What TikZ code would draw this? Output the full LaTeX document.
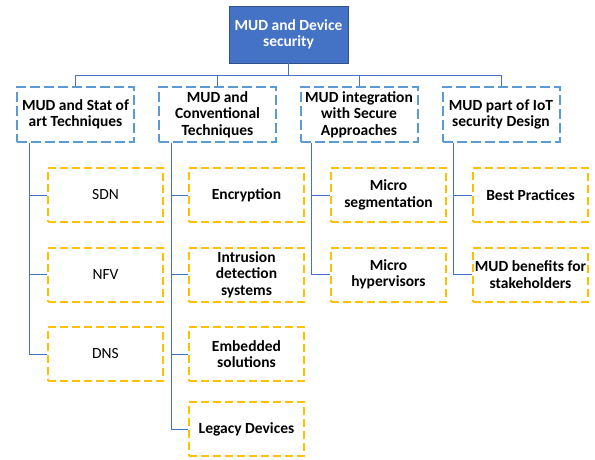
\documentclass[tikz,border=0pt]{standalone}
\usepackage{fontspec}
\setmainfont{Carlito}
\usepackage{tikz}
\usetikzlibrary{calc}
\definecolor{topblue}{HTML}{4472C4}
\definecolor{topedge}{HTML}{2F528F}
\definecolor{dashblue}{HTML}{5B9BD5}
\definecolor{dashgold}{HTML}{FFC000}
\definecolor{wire}{HTML}{4472C4}
\tikzset{
  rootbox/.style={draw=topedge, line width=0.8pt, fill=topblue, text=white,
    minimum width=119pt, minimum height=57pt, align=center, font=\bfseries},
  topicbox/.style={draw=dashblue, line width=2pt, dash pattern=on 10pt off 4pt,
    minimum width=117pt, minimum height=55pt, align=center, font=\bfseries, inner sep=1pt},
  leafbox/.style={draw=dashgold, line width=2pt, dash pattern=on 8pt off 4pt,
    minimum width=115pt, minimum height=54pt, align=center, inner sep=1pt},
  wireline/.style={draw=wire, line width=0.9pt},
}
\begin{document}
\begin{tikzpicture}[x=1pt,y=-1pt]
  \fontsize{15.5}{16.5}\selectfont
  \useasboundingbox (0,0) rectangle (595,459);

  % root
  \node[rootbox] (root) at (288.5,34.5) {MUD and Device\\security};
  \coordinate (bus) at (288.5,75.5);

  % topics
  \node[topicbox] (stat) at (75.5,114.5) {MUD and Stat of\\art Techniques};
  \node[topicbox] (conv) at (217.5,114.5) {MUD and\\Conventional\\Techniques};
  \node[topicbox] (secure) at (359,114.5) {MUD integration\\with Secure\\Approaches};
  \node[topicbox] (iot) at (501,114.5) {MUD part of IoT\\security Design};

  % leaves
  \node[leafbox] (sdn) at (105.5,195) {SDN};
  \node[leafbox] (nfv) at (105.5,274.5) {NFV};
  \node[leafbox] (dns) at (105.5,354) {DNS};

  \node[leafbox, font=\bfseries] (encr) at (246.5,195) {Encryption};
  \node[leafbox, font=\bfseries] (ids) at (246.5,274.5) {Intrusion\\detection\\systems};
  \node[leafbox, font=\bfseries] (embed) at (246.5,354) {Embedded\\solutions};
  \node[leafbox, font=\bfseries] (legacy) at (246.5,429) {Legacy Devices};

  \node[leafbox, font=\bfseries] (microseg) at (388.5,195) {Micro\\segmentation};
  \node[leafbox, font=\bfseries] (microhyp) at (388.5,274.5) {Micro\\hypervisors};

  \node[leafbox, font=\bfseries] (best) at (530.5,195) {Best Practices};
  \node[leafbox, font=\bfseries] (benefit) at (530.5,274.5) {MUD benefits for\\stakeholders};

  % connectors
  \draw[wireline] (root.south) -- (bus);
  \foreach \t in {stat,conv,secure,iot}
    \draw[wireline] (bus) -| (\t.north);

  \coordinate (statspine) at ([xshift=13pt]stat.south west);
  \coordinate (convspine) at ([xshift=13pt]conv.south west);
  \coordinate (securespine) at ([xshift=12pt]secure.south west);
  \coordinate (iotspine) at ([xshift=12pt]iot.south west);

  \foreach \l in {sdn,nfv,dns}
    \draw[wireline] (statspine) |- (\l.west);
  \foreach \l in {encr,ids,embed,legacy}
    \draw[wireline] (convspine) |- (\l.west);
  \foreach \l in {microseg,microhyp}
    \draw[wireline] (securespine) |- (\l.west);
  \foreach \l in {best,benefit}
    \draw[wireline] (iotspine) |- (\l.west);
\end{tikzpicture}
\end{document}
